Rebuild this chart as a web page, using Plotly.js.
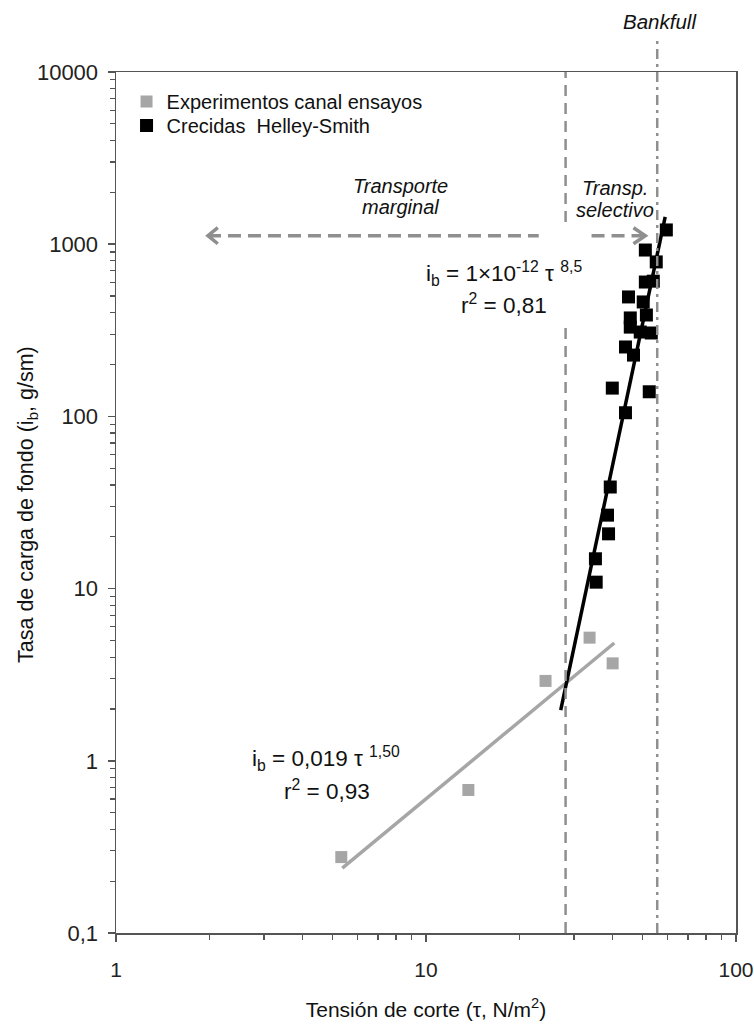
<!DOCTYPE html>
<html>
<head>
<meta charset="utf-8">
<script src="https://cdn.plot.ly/plotly-3.0.1.min.js"></script>
<style>
html,body{margin:0;padding:0;background:#fff;}
#chart{width:754px;height:1035px;}
</style>
</head>
<body>
<div id="chart"></div>
<script>
// ---- data ----
var expName = 'Experimentos canal ensayos';
var expTau = [5.33, 13.7, 24.3, 33.7, 40.0];
var expIb  = [0.276, 0.677, 2.91, 5.19, 3.68];

var floodName = 'Crecidas  Helley-Smith';
var floodTau = [59.6, 51.0, 55.3, 51.0, 54.1, 45.0, 50.2, 51.4, 45.6, 45.6, 49.1, 53.3, 44.0, 46.7, 39.9, 52.5, 44.0, 39.3, 38.5, 38.8, 35.2, 35.4];
var floodIb  = [1210, 925, 789, 603, 610, 494, 462, 388, 373, 330, 309, 305, 253, 227, 146, 139, 105, 38.9, 26.7, 20.8, 14.9, 10.9];

// fitted trend lines (end points)
var fitExpTau = [5.37, 40.5];
var fitExpIb  = [0.238, 4.83];
var fitFloodTau = [27.2, 59.1];
var fitFloodIb  = [1.97, 1440];

// reference thresholds
var tauCritical = 28.2;
var tauBankfull = 55.7;
var criticalLowerTop = 340;     // lower dashed segment ends here
var criticalUpperBottom = 1346; // upper dashed segment starts here

// arrows
var arrowIb = 1120;
var arrowLeftSpan = [1.98, 23.1];
var arrowRightSpan = [34.2, 51.0];
var leftHeadTau = [2.13, 1.98, 2.13];
var leftHeadIb  = [1247, 1120, 1006];
var rightHeadTau = [46.7, 51.0, 46.7];
var rightHeadIb  = [1247, 1120, 1006];

// tick labels
var xTickVals = [1, 10, 100];
var xTickText = ['1', '10', '100'];
var yTickVals = [0.1, 1, 10, 100, 1000, 10000];
var yTickText = ['0,1', '1', '10', '100', '1000', '10000'];

function minorTicks(decStart, decEnd) {
  var out = [];
  for (var d = decStart; d < decEnd; d++) {
    for (var k = 2; k <= 9; k++) out.push(k * Math.pow(10, d));
  }
  return out;
}

var FONT = '"Liberation Sans", Arial, sans-serif';
var GREY = '#a6a6a6';
var REFGREY = '#8f8f8f';
var AXC = '#555555';

var traces = [
  {x: fitExpTau, y: fitExpIb, mode: 'lines', line: {color: GREY, width: 3.5}, showlegend: false, hoverinfo: 'skip'},
  {x: fitFloodTau, y: fitFloodIb, mode: 'lines', line: {color: '#000', width: 3.5}, showlegend: false, hoverinfo: 'skip'},
  {x: expTau, y: expIb, mode: 'markers', name: expName, legend: 'legend', marker: {symbol: 'square', size: 12, color: GREY}},
  {x: floodTau, y: floodIb, mode: 'markers', name: floodName, legend: 'legend2', marker: {symbol: 'square', size: 13, color: '#000'}},
  {x: leftHeadTau, y: leftHeadIb, mode: 'lines', line: {color: REFGREY, width: 3.5}, showlegend: false, hoverinfo: 'skip'},
  {x: rightHeadTau, y: rightHeadIb, mode: 'lines', line: {color: REFGREY, width: 3.5}, showlegend: false, hoverinfo: 'skip'}
];

var dashV = {color: REFGREY, width: 2.5, dash: '11px,7px'};
var dashA = {color: REFGREY, width: 3.5, dash: '13px,7px'};
var shapes = [
  {type: 'line', xref: 'x', yref: 'y', x0: tauCritical, x1: tauCritical, y0: 0.1, y1: criticalLowerTop, line: dashV},
  {type: 'line', xref: 'x', yref: 'y', x0: tauCritical, x1: tauCritical, y0: criticalUpperBottom, y1: 10000, line: dashV},
  {type: 'line', xref: 'x', yref: 'paper', x0: tauBankfull, x1: tauBankfull, y0: 0, y1: 1.037, line: {color: REFGREY, width: 2.5, dash: '10px,5px,3px,5px'}},
  {type: 'line', xref: 'x', yref: 'y', x0: arrowLeftSpan[0], x1: arrowLeftSpan[1], y0: arrowIb, y1: arrowIb, line: dashA},
  {type: 'line', xref: 'x', yref: 'y', x0: arrowRightSpan[0], x1: arrowRightSpan[1], y0: arrowIb, y1: arrowIb, line: dashA}
];

// convert pixel positions of the text to paper coords (plot area 116..736, 72..933)
function px(x) { return (x - 116) / 620; }
function py(y) { return (933 - y) / 861; }
function ann(x, y, text, size, italic, angle) {
  return {xref: 'paper', yref: 'paper', x: px(x), y: py(y), text: text, showarrow: false,
          xanchor: 'center', yanchor: 'middle', textangle: angle || 0,
          font: {family: FONT, size: size, color: '#111', style: italic ? 'italic' : 'normal'}};
}

var annotations = [
  ann(660, 21, 'Bankfull', 20.5, true),
  ann(400, 186, 'Transporte', 20, true),
  ann(400, 207, 'marginal', 20, true),
  ann(615, 188, 'Transp.', 20, true),
  ann(615, 210, 'selectivo', 20, true),
  ann(504, 273, 'i<sub>b</sub> = 1×10<sup>-12</sup> τ <sup>8,5</sup>', 22.5, false),
  ann(504, 304, 'r<sup>2</sup> = 0,81', 22.5, false),
  ann(326, 758, 'i<sub>b</sub> = 0,019 τ <sup>1,50</sup>', 22.5, false),
  ann(327, 790, 'r<sup>2</sup> = 0,93', 22.5, false),
  ann(27, 505, 'Tasa de carga de fondo (i<sub>b</sub>, g/sm)', 21.5, false, -90)
];

var axisCommon = {
  type: 'log', showgrid: false, zeroline: false,
  showline: true, linecolor: AXC, linewidth: 1.5, mirror: true,
  ticks: 'outside', ticklen: 7, tickwidth: 1.5, tickcolor: AXC,
  tickmode: 'array', ticklabeloverflow: 'allow',
  tickfont: {family: FONT, size: 22, color: '#222'}
};

var legendFont = {family: FONT, size: 20, color: '#111'};
var layout = {
  width: 754, height: 1035,
  margin: {l: 116, r: 18, t: 72, b: 102},
  paper_bgcolor: '#fff', plot_bgcolor: '#fff',
  font: {family: FONT, color: '#222'},
  showlegend: true,
  legend: {x: 0.017, y: 0.9884, xanchor: 'left', yanchor: 'top', bgcolor: 'rgba(0,0,0,0)', font: legendFont},
  legend2: {x: 0.017, y: 0.9605, xanchor: 'left', yanchor: 'top', bgcolor: 'rgba(0,0,0,0)', font: legendFont},
  xaxis: Object.assign({}, axisCommon, {
    range: [0, 2], tickvals: xTickVals, ticktext: xTickText,
    ticklabelstandoff: 10,
    tickfont: {family: FONT, size: 21, color: '#222'},
    minor: {tickvals: minorTicks(0, 2), ticks: 'outside', ticklen: 5, tickwidth: 1.2, tickcolor: AXC, showgrid: false},
    title: {text: 'Tensión de corte (τ, N/m<sup>2</sup>)', font: {family: FONT, size: 21, color: '#111'}, standoff: 22}
  }),
  yaxis: Object.assign({}, axisCommon, {
    range: [-1, 4], tickvals: yTickVals, ticktext: yTickText,
    ticklabelstandoff: 5,
    minor: {tickvals: minorTicks(-1, 4), ticks: 'outside', ticklen: 5, tickwidth: 1.2, tickcolor: AXC, showgrid: false}
  }),
  shapes: shapes,
  annotations: annotations
};

Plotly.newPlot('chart', traces, layout, {displayModeBar: false, staticPlot: true});
</script>
</body>
</html>
